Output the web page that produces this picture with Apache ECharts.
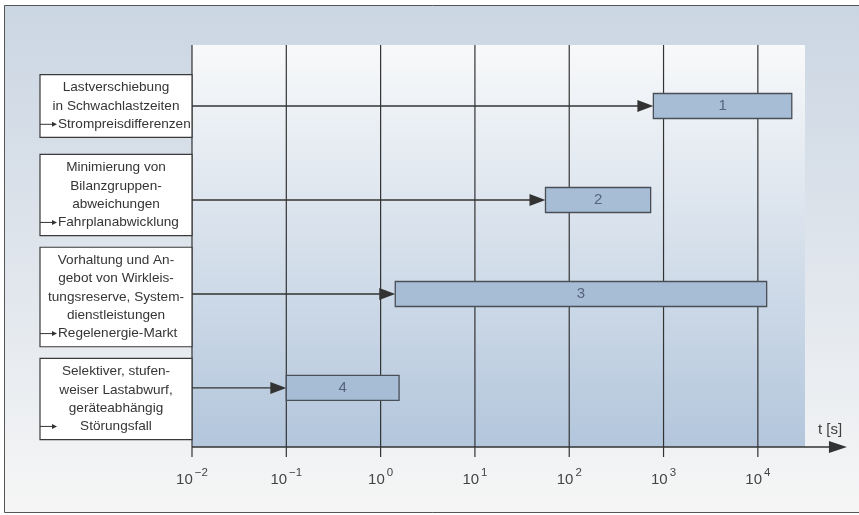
<!DOCTYPE html>
<html><head><meta charset="utf-8">
<script src="https://cdn.jsdelivr.net/npm/echarts@6/dist/echarts.min.js"></script>
<style>html,body{margin:0;padding:0;background:#fff}#c{width:859px;height:515px}</style>
</head><body><div id="c"></div><script>
// ---- data ----
const rowLabels = ['1', '2', '3', '4'];
const startTimes = [780, 56, 1.43, 0.1];       // s
const endTimes = [22900, 730, 12400, 1.57];     // s
const boxTexts = [
  ['Lastverschiebung', 'in Schwachlastzeiten', 'Strompreisdifferenzen'],
  ['Minimierung von', 'Bilanzgruppen-', 'abweichungen', 'Fahrplanabwicklung'],
  ['Vorhaltung und An-', 'gebot von Wirkleis-', 'tungsreserve, System-', 'dienstleistungen', 'Regelenergie-Markt'],
  ['Selektiver, stufen-', 'weiser Lastabwurf,', 'geräteabhängig', 'Störungsfall']
];
const tickExponents = [-2, -1, 0, 1, 2, 3, 4];
const axisTitle = 't [s]';

// ---- layout / style ----
const X_MIN = 0.01, X_MAX = Math.pow(10, 4.5), ARROW_TIP = Math.pow(10, 4.945);
const Y_MIN = 0.351, Y_MAX = 4.628;
const BOX_W = 152, LINE_H = 18.3, BOX_PAD = 4;
const BOX_SHIFT = [0, -5, 3, 11];
const FONT = '13.6px "Liberation Sans", Arial, sans-serif';
const TEXT_C = '#353535';
const LINE_C = '#333333';

const measureCtx = document.createElement('canvas').getContext('2d');
measureCtx.font = FONT;

const chart = echarts.init(document.getElementById('c'), null, {renderer: 'canvas'});

function rowRender(params, api) {
  const i = api.value(3);
  const row = api.value(1);
  const s = api.coord([api.value(0), row]);
  const e = api.coord([api.value(2), row]);
  const x0 = api.coord([X_MIN, row])[0];
  const y = s[1];
  const bh = 25;
  const ch = [];
  // connecting arrow
  ch.push({type: 'line', shape: {x1: x0, y1: y, x2: s[0] - 14, y2: y}, style: {stroke: LINE_C, lineWidth: 1.3}});
  ch.push({type: 'polygon', shape: {points: [[s[0] - 16, y - 6], [s[0], y], [s[0] - 16, y + 6]]}, style: {fill: '#333'}});
  // bar
  ch.push({type: 'rect', shape: {x: s[0], y: y - bh / 2, width: e[0] - s[0], height: bh},
    style: {fill: '#a7bcd5', stroke: '#4a4f57', lineWidth: 1.3}});
  ch.push({type: 'text', x: (s[0] + e[0]) / 2, y: y,
    style: {text: rowLabels[i], font: '15px "Liberation Sans", Arial, sans-serif', fill: '#56657b', align: 'center', verticalAlign: 'middle'}});
  // label box
  const lines = boxTexts[i];
  const h = lines.length * LINE_H + 2 * BOX_PAD;
  const bx = x0 - BOX_W;
  const by = y + BOX_SHIFT[i] - h / 2;
  ch.push({type: 'rect', shape: {x: bx, y: by, width: BOX_W, height: h},
    style: {fill: '#ffffff', stroke: '#3a3a3a', lineWidth: 1.2}});
  lines.forEach((t, k) => {
    const ly = by + BOX_PAD + LINE_H * (k + 0.5);
    let cx = bx + BOX_W / 2;
    if (k === lines.length - 1) {
      const w = measureCtx.measureText(t).width;
      cx = Math.max(cx, bx + 18 + w / 2);
      ch.push({type: 'line', shape: {x1: bx, y1: ly, x2: bx + 13, y2: ly}, style: {stroke: '#333', lineWidth: 1}});
      ch.push({type: 'polygon', shape: {points: [[bx + 12, ly - 2.5], [bx + 17, ly], [bx + 12, ly + 2.5]]}, style: {fill: '#333'}});
    }
    ch.push({type: 'text', x: cx, y: ly,
      style: {text: t, font: FONT, fill: TEXT_C, align: 'center', verticalAlign: 'middle'}});
  });
  return {type: 'group', children: ch};
}

function gridRender(params, api) {
  const v = api.value(0);
  const top = api.coord([v, Y_MIN]);
  const bot = api.coord([v, Y_MAX]);
  return {type: 'line', shape: {x1: top[0], y1: top[1], x2: bot[0], y2: bot[1] + 10},
    style: {stroke: LINE_C, lineWidth: 1.2}};
}

function axisRender(params, api) {
  const a = api.coord([X_MIN, Y_MAX]);
  const b = api.coord([ARROW_TIP, Y_MAX]);
  return {type: 'group', children: [
    {type: 'line', shape: {x1: a[0], y1: a[1], x2: b[0] - 14, y2: b[1]}, style: {stroke: LINE_C, lineWidth: 1.5}},
    {type: 'polygon', shape: {points: [[b[0] - 18, b[1] - 6], [b[0], b[1]], [b[0] - 18, b[1] + 6]]}, style: {fill: '#333'}}
  ]};
}

const option = {
  animation: false,
  backgroundColor: '#ffffff',
  graphic: [{
    type: 'rect', z: -100, silent: true,
    shape: {x: 4.5, y: 5.5, width: 900, height: 507},
    style: {
      fill: new echarts.graphic.LinearGradient(0, 0, 0, 1, [
        {offset: 0, color: '#cbd6e3'}, {offset: 0.5, color: '#dfe5ec'}, {offset: 1, color: '#f6f6f6'}]),
      stroke: '#555', lineWidth: 1
    }
  }],
  grid: {
    left: 192, right: 54, top: 45, bottom: 68, show: true, borderWidth: 0, z: 0,
    backgroundColor: new echarts.graphic.LinearGradient(0, 0, 0, 1, [
      {offset: 0, color: '#f8f9fa'}, {offset: 1, color: '#b3c6dc'}])
  },
  xAxis: {
    type: 'log', logBase: 10, min: X_MIN, max: X_MAX,
    axisLine: {show: false}, axisTick: {show: false}, splitLine: {show: false},
    name: axisTitle, nameLocation: 'end', nameGap: 13,
    nameTextStyle: {fontSize: 15, fontFamily: 'Liberation Sans', color: '#404040', verticalAlign: 'bottom', padding: [0, 0, 10, 0]},
    axisLabel: {
      margin: 20, showMinLabel: true, showMaxLabel: true,
      formatter: function (v) {
        const e = Math.log10(v), r = Math.round(e);
        if (Math.abs(e - r) > 1e-6) return '';
        return '{b|10}{s|' + (r < 0 ? '\u2212' + (-r) : r) + '}';
      },
      rich: {
        b: {fontSize: 15, fontFamily: 'Liberation Sans', color: '#444', lineHeight: 20, verticalAlign: 'bottom', padding: [0, 2, 0, 0]},
        s: {fontSize: 11.5, fontFamily: 'Liberation Sans', color: '#444', lineHeight: 11, verticalAlign: 'top'}
      }
    }
  },
  yAxis: {type: 'value', inverse: true, min: Y_MIN, max: Y_MAX, show: false},
  series: [
    {type: 'custom', name: 'grid', z: 1, silent: true, clip: false,
      data: tickExponents.map(e => [Math.pow(10, e), 1]), encode: {x: 0, y: 1}, renderItem: gridRender},
    {type: 'custom', name: 'axis', z: 2, silent: true, clip: false,
      data: [[X_MIN, Y_MAX]], encode: {x: 0, y: 1}, renderItem: axisRender},
    {type: 'custom', name: 'rows', z: 3, clip: false,
      data: rowLabels.map((l, i) => [startTimes[i], i + 1, endTimes[i], i]),
      encode: {x: [0, 2], y: 1}, renderItem: rowRender}
  ]
};
chart.setOption(option);
</script></body></html>
